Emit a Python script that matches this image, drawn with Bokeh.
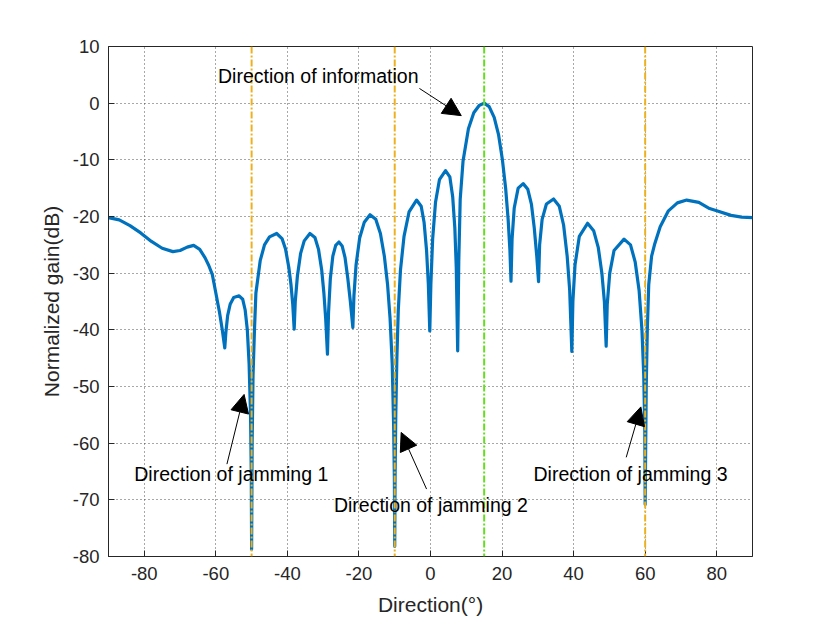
from bokeh.plotting import figure
from bokeh.models import Range1d, FixedTicker, Span, Arrow, NormalHead, Label
from bokeh.embed import file_html
from bokeh.resources import INLINE

# ---- data ----
angle = [-90, -87, -84, -81, -78, -75, -72, -70, -68, -66.2, -64.5, -63, -62, -61, -60, -59, -58.2, -57.5,
         -57.2, -56.7, -56.0, -55.0, -53.5, -52.5, -51.8, -51.2, -50.7, -50.3, -50.1, -50.0,
         -49.85, -49.6, -49.2, -48.8, -47.6, -46.4, -45.0, -43.0, -41.5, -40.5, -39.6, -39.0, -38.5, -38.1,
         -37.8, -37.2, -36.3, -35.3, -33.7, -32.3, -31.3, -30.4, -29.8, -29.3, -28.8,
         -28.5, -28.0, -27.3, -26.5, -25.6, -24.7, -23.9, -23.1, -22.4, -21.7,
         -21.4, -20.8, -19.8, -18.5, -16.9, -15.3, -14.0, -12.9, -12.0, -11.3, -10.7, -10.3, -10.1, -10.0,
         -9.9, -9.7, -9.4, -9.0, -8.4, -7.4, -6.0, -3.9, -2.6, -1.8, -1.1, -0.6, -0.2,
         0.1, 0.6, 1.4, 2.5, 4.2, 5.4, 6.2, 6.8, 7.2, 7.6,
         7.9, 8.3, 9.1, 10.6, 12.1, 13.6, 15.0, 16.4, 17.8, 19.0, 20.1, 21.0, 21.7, 22.2, 22.5,
         22.8, 23.4, 24.5, 25.9, 27.2, 28.2, 29.0, 29.7, 30.2,
         30.5, 31.2, 32.4, 34.4, 36.0, 37.2, 38.2, 38.9, 39.5,
         39.8, 40.4, 41.6, 43.9, 45.6, 46.9, 47.9, 48.6, 49.1,
         49.4, 50.1, 51.3, 54.1, 55.9, 57.2, 58.3, 59.1, 59.6, 59.9, 60.0,
         60.3, 60.6, 61.0, 61.8, 62.6, 64.2, 66.5, 69.0, 71.6, 75.0, 78.0, 80.0, 84.0, 87.0, 90.0]
gain_db = [-20.2, -20.6, -21.6, -22.9, -24.4, -25.6, -26.2, -26.0, -25.4, -25.1, -25.8, -27.3, -28.6, -30.2, -33.5, -36.8, -40.0, -43.2,
           -40.5, -37.5, -35.5, -34.3, -34.0, -34.6, -36.5, -40.0, -46.0, -55.0, -65.0, -78.7,
           -60.0, -48.0, -40.0, -33.5, -27.8, -25.0, -23.6, -23.0, -23.9, -25.8, -29.0, -32.0, -35.5, -39.9,
           -35.0, -30.5, -26.5, -24.3, -23.0, -23.7, -25.8, -29.5, -33.5, -38.0, -44.3,
           -37.0, -31.0, -27.0, -25.1, -24.5, -25.2, -27.2, -31.0, -35.0, -39.6,
           -34.0, -28.5, -23.8, -21.0, -19.7, -20.5, -23.0, -27.0, -32.0, -38.0, -46.0, -57.0, -66.0, -78.2,
           -66.0, -55.0, -45.0, -36.5, -29.5, -23.5, -19.2, -17.1, -18.2, -21.0, -26.0, -32.0, -40.2,
           -32.0, -24.0, -17.5, -13.5, -11.9, -13.0, -16.5, -22.0, -29.0, -43.7,
           -28.0, -17.0, -10.2, -4.5, -1.7, -0.4, 0.0, -0.6, -2.5, -5.5, -10.0, -15.0, -20.5, -26.0, -31.4,
           -24.0, -18.5, -15.0, -14.2, -15.2, -17.8, -22.0, -27.0, -31.5,
           -25.0, -20.5, -17.8, -16.9, -18.2, -21.5, -27.0, -33.0, -43.8,
           -35.0, -28.5, -23.5, -21.2, -22.5, -25.5, -30.0, -35.0, -42.9,
           -35.5, -30.0, -26.0, -24.0, -25.0, -28.0, -33.0, -40.0, -48.0, -58.0, -70.8,
           -50.0, -40.0, -32.0, -27.0, -25.0, -21.8, -19.0, -17.6, -17.1, -17.5, -18.6, -19.0, -19.8, -20.1, -20.2]

jamming_angles = [-50, -10, 60]
information_angle = 15

x_ticks = [-80, -60, -40, -20, 0, 20, 40, 60, 80]
y_ticks = [-80, -70, -60, -50, -40, -30, -20, -10, 0, 10]

annot_texts = ["Direction of information", "Direction of jamming 1",
               "Direction of jamming 2", "Direction of jamming 3"]
annot_text_x = [-59.4, -82.8, -27.0, 28.8]
annot_text_y = [4.75, -65.4, -70.9, -65.5]
arrow_x_start = [-3.1, -56.9, -1.1, 54.7]
arrow_y_start = [2.6, -63.7, -68.1, -62.5]
arrow_x_end = [8.6, -52.1, -8.2, 58.8]
arrow_y_end = [-2.2, -51.4, -58.1, -53.6]

FONT = "Liberation Sans"
AX = "#262626"

p = figure(width=814, height=618,
           x_range=Range1d(-90, 90), y_range=Range1d(-80, 10),
           output_backend="svg", toolbar_location=None,
           min_border_left=108, min_border_right=62,
           min_border_top=46, min_border_bottom=62)

p.background_fill_color = "white"
p.border_fill_color = "white"
p.outline_line_color = AX
p.outline_line_width = 1
p.outline_line_alpha = 1

p.xaxis.ticker = FixedTicker(ticks=x_ticks)
p.yaxis.ticker = FixedTicker(ticks=y_ticks)
p.xaxis.major_label_overrides = {t: str(t) for t in x_ticks}
p.yaxis.major_label_overrides = {t: str(t) for t in y_ticks}

for ax in (p.xaxis[0], p.yaxis[0]):
    ax.axis_line_color = AX
    ax.major_tick_line_color = AX
    ax.major_tick_in = 6
    ax.major_tick_out = 0
    ax.minor_tick_in = 0
    ax.minor_tick_out = 0
    ax.major_label_text_font = FONT
    ax.major_label_text_font_size = "18.5px"
    ax.major_label_text_color = AX
    ax.axis_label_text_font = FONT
    ax.axis_label_text_font_size = "21px"
    ax.axis_label_text_font_style = "normal"
    ax.axis_label_text_color = AX

p.xaxis.axis_label = "Direction(°)"
p.yaxis.axis_label = "Normalized gain(dB)"
p.xaxis.major_label_standoff = 10
p.xaxis.axis_label_standoff = 10
p.yaxis.major_label_standoff = 9
p.yaxis.axis_label_standoff = 7

for g in (p.xgrid[0], p.ygrid[0]):
    g.grid_line_color = "#262626"
    g.grid_line_alpha = 0.8
    g.grid_line_dash = "1 3"
    g.grid_line_width = 1

p.line(angle, gain_db, line_color="#0072BD", line_width=3.2, line_join="round")

for a in jamming_angles:
    p.add_layout(Span(location=a, dimension="height", line_color="#EDB120",
                      line_width=2, line_dash="7 2 2 2"))
p.add_layout(Span(location=information_angle, dimension="height", line_color="#66DD22",
                  line_width=2, line_dash="7 2 2 2"))

for i in range(len(annot_texts)):
    p.add_layout(Arrow(end=NormalHead(size=18, fill_color="black", line_color="black"),
                       x_start=arrow_x_start[i], y_start=arrow_y_start[i],
                       x_end=arrow_x_end[i], y_end=arrow_y_end[i],
                       line_color="black", line_width=1))
    p.add_layout(Label(x=annot_text_x[i], y=annot_text_y[i], text=annot_texts[i],
                       text_font=FONT, text_font_size="19.5px", text_color="black",
                       text_align="left", text_baseline="alphabetic"))

open("out.html", "w").write(file_html(p, INLINE))
